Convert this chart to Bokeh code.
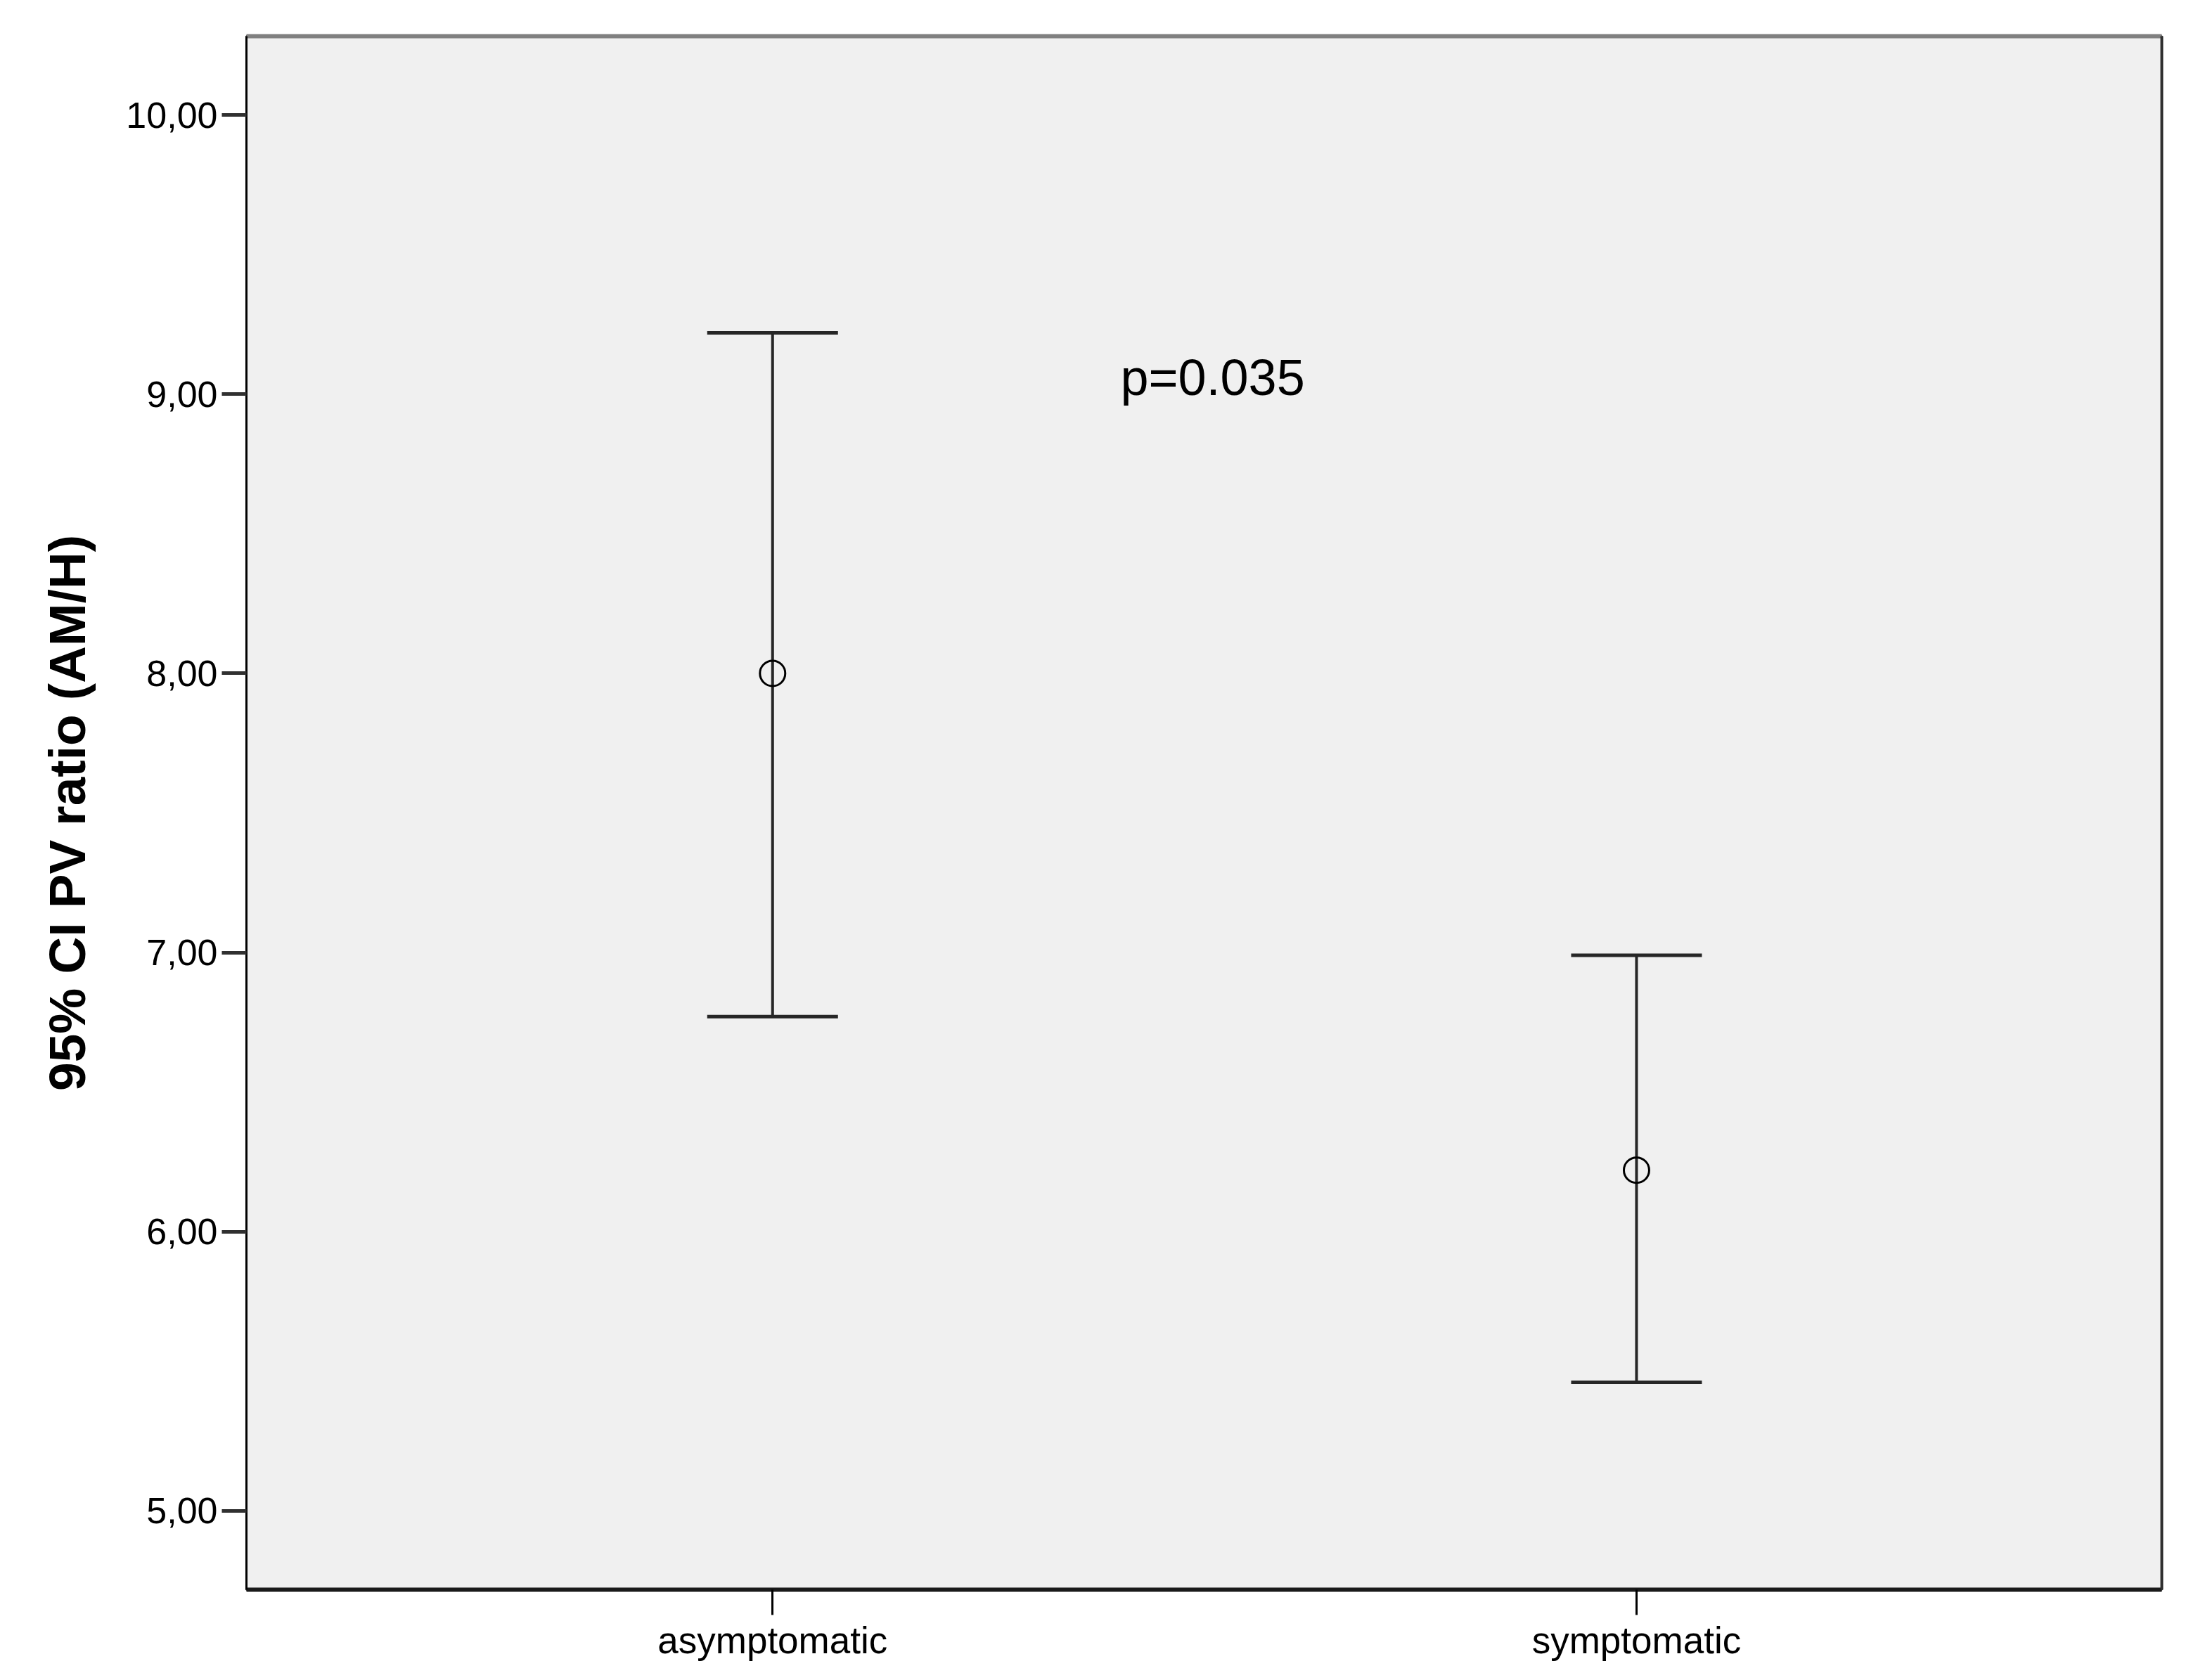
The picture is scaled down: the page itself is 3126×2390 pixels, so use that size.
from bokeh.plotting import figure
from bokeh.models import (ColumnDataSource, Range1d, FixedTicker, Whisker, TeeHead,
                          Label, LinearAxis)
from bokeh.embed import file_html
from bokeh.resources import INLINE

# ---- data ----
categories = ["asymptomatic", "symptomatic"]
means = [8.00, 6.22]
ci_upper = [9.22, 6.99]
ci_lower = [6.77, 5.46]
y_ticks = [5, 6, 7, 8, 9, 10]
y_label = "95% CI PV ratio (AM/H)"
annotation = "p=0.035"

FONT = "Liberation Sans"
xs = [i + 1 for i in range(len(categories))]

src = ColumnDataSource(dict(x=xs, mean=means, upper=ci_upper, lower=ci_lower))

p = figure(width=3110, height=2374, output_backend="svg", toolbar_location=None,
           x_range=Range1d(0.391, 2.608), y_range=Range1d(4.717, 10.283),
           min_border_left=350, min_border_right=36, min_border_top=51,
           min_border_bottom=113)

p.background_fill_color = "#f0f0f0"
p.border_fill_color = "white"
p.outline_line_color = "#404040"
p.outline_line_width = 3
p.xgrid.visible = False
p.ygrid.visible = False

# y axis
ya = p.yaxis[0]
ya.ticker = FixedTicker(ticks=y_ticks)
ya.major_label_overrides = {t: f"{t:.2f}".replace(".", ",") for t in y_ticks}
ya.major_label_text_font = FONT
ya.major_label_text_font_size = "52px"
ya.major_label_text_color = "black"
ya.major_tick_out = 35
ya.major_tick_in = 0
ya.major_tick_line_width = 5
ya.major_tick_line_color = "#303030"
ya.minor_tick_out = 0
ya.minor_tick_in = 0
ya.axis_line_color = "black"
ya.axis_line_width = 3
ya.major_label_standoff = 6
ya.axis_label = y_label
ya.axis_label_text_font = FONT
ya.axis_label_text_font_style = "bold"
ya.axis_label_text_font_size = "73px"
ya.axis_label_text_color = "black"
ya.axis_label_standoff = 40

# x axis
xa = p.xaxis[0]
xa.ticker = FixedTicker(ticks=xs)
xa.major_label_overrides = {x: c for x, c in zip(xs, categories)}
xa.major_label_text_font = FONT
xa.major_label_text_font_size = "53px"
xa.major_label_text_color = "black"
xa.major_tick_out = 36
xa.major_tick_in = 0
xa.major_tick_line_width = 3
xa.major_tick_line_color = "black"
xa.minor_tick_out = 0
xa.minor_tick_in = 0
xa.axis_line_color = "#1a1a1a"
xa.axis_line_width = 6
xa.major_label_standoff = 6

# extra framing axes (top gray, right dark)
top = LinearAxis(ticker=FixedTicker(ticks=[]), major_tick_out=0, major_tick_in=0,
                 minor_tick_out=0, minor_tick_in=0, major_label_text_font_size="0px",
                 axis_line_color="#808080", axis_line_width=6)
right = LinearAxis(ticker=FixedTicker(ticks=[]), major_tick_out=0, major_tick_in=0,
                   minor_tick_out=0, minor_tick_in=0, major_label_text_font_size="0px",
                   axis_line_color="#303030", axis_line_width=4)
p.add_layout(top, "above")
p.add_layout(right, "right")

# error bars
wh = Whisker(base="x", upper="upper", lower="lower", source=src,
             line_color="#262626", line_width=4,
             upper_head=TeeHead(size=186, line_color="#262626", line_width=5),
             lower_head=TeeHead(size=186, line_color="#262626", line_width=5))
p.add_layout(wh)

# means
p.scatter(x="x", y="mean", source=src, marker="circle", size=36,
          fill_color=None, line_color="black", line_width=3)

# p-value annotation
p.add_layout(Label(x=1.4026, y=9.06, text=annotation, text_font=FONT,
                   text_font_size="72px", text_color="black",
                   text_baseline="middle"))

open("out.html", "w").write(file_html(p, INLINE))
